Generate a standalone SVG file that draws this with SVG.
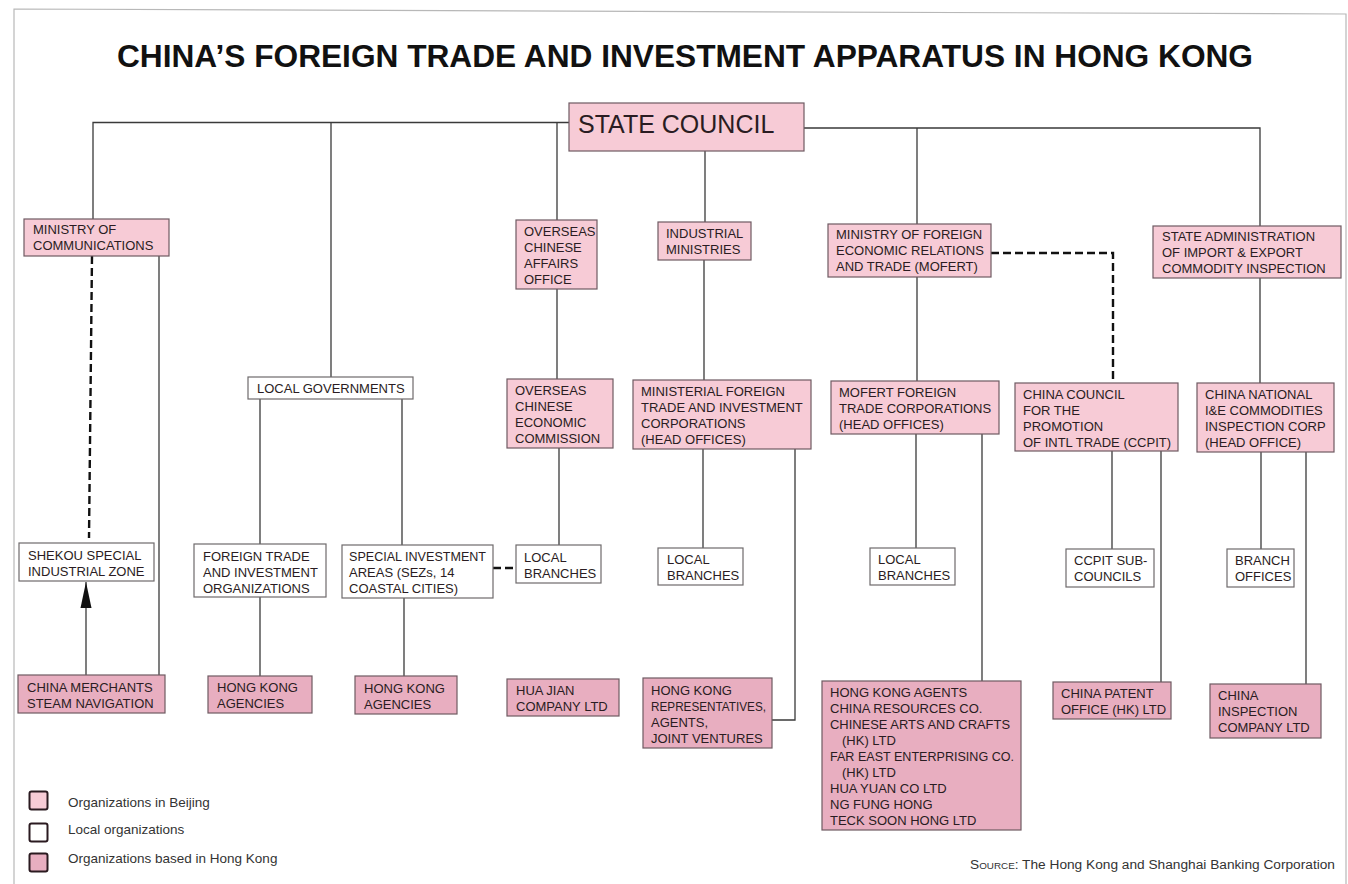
<svg xmlns="http://www.w3.org/2000/svg" width="1348" height="884" viewBox="0 0 1348 884">
<defs>
<style>
.bj{fill:#f7cbd6;stroke:#6e5a62;stroke-width:1.2}
.hk{fill:#e8aec0;stroke:#6e5a62;stroke-width:1.2}
.lo{fill:#ffffff;stroke:#6e6a6c;stroke-width:1.2}
.t{font-family:"Liberation Sans",Arial,sans-serif;font-size:13px;fill:#2a1c22}
.c{fill:none;stroke:#3a3a3a;stroke-width:1.3}
.d{fill:none;stroke:#111;stroke-width:2.4;stroke-dasharray:8 4}
.frame{fill:none;stroke:#b8b8b8;stroke-width:1.2}
.lg{font-family:"Liberation Sans",Arial,sans-serif;font-size:13.5px;fill:#333}
</style>
<marker id="arr" viewBox="0 0 26 12" refX="26" refY="6" markerWidth="26" markerHeight="12" markerUnits="userSpaceOnUse" orient="auto">
<path d="M0,0.5 L26,6 L0,11.5 Z" fill="#111"/>
</marker>
</defs>
<rect width="1348" height="884" fill="#ffffff"/>
<path class="frame" d="M14,884 V9 L1346,14 V884"/>
<text x="117" y="67" font-family="'Liberation Sans',Arial,sans-serif" font-weight="bold" font-size="31" fill="#111" textLength="1136" lengthAdjust="spacingAndGlyphs">CHINA’S FOREIGN TRADE AND INVESTMENT APPARATUS IN HONG KONG</text>

<g id="connectors">
<path class="c" d="M93,219 V122.5 H569"/>
<path class="c" d="M331,122.5 V377"/>
<path class="c" d="M557,122.5 V220"/>
<path class="c" d="M705,151 V222"/>
<path class="c" d="M804,128 H1260 V226"/>
<path class="c" d="M917,128 V224"/>
<path class="d" d="M92,256 L89,538"/>
<path class="c" d="M159,256 V675"/>
<path class="c" d="M86,675 V582" marker-end="url(#arr)"/>
<path class="c" d="M260,399 V544"/>
<path class="c" d="M260,597 V676"/>
<path class="c" d="M402,399 V545"/>
<path class="c" d="M404,598 V676"/>
<path class="d" d="M493,568 H516"/>
<path class="c" d="M557,289 V379"/>
<path class="c" d="M559,448 V545"/>
<path class="c" d="M704,260 V380"/>
<path class="c" d="M703,449 V548"/>
<path class="c" d="M795,449 V720 H772"/>
<path class="c" d="M917,277 V381"/>
<path class="d" d="M991,253 H1113 V383"/>
<path class="c" d="M916,434 V548"/>
<path class="c" d="M982,434 V681"/>
<path class="c" d="M1112,451 V549"/>
<path class="c" d="M1161,451 V682"/>
<path class="c" d="M1260,278 V383"/>
<path class="c" d="M1261,452 V549"/>
<path class="c" d="M1306,452 V684"/>
</g>

<g id="n-state"><rect class="bj" x="569" y="103" width="235" height="48"/><text class="t" x="578" y="133" font-size="25" style="font-size:25px">STATE COUNCIL</text></g>

<g id="n-mincomm"><rect class="bj" x="24" y="219" width="145" height="37"/><text class="t" x="33" y="234">MINISTRY OF</text><text class="t" x="33" y="250">COMMUNICATIONS</text></g>
<g id="n-ocao"><rect class="bj" x="516" y="220" width="81" height="69"/><text class="t" x="524" y="236">OVERSEAS</text><text class="t" x="524" y="252">CHINESE</text><text class="t" x="524" y="268">AFFAIRS</text><text class="t" x="524" y="284">OFFICE</text></g>
<g id="n-indmin"><rect class="bj" x="658" y="222" width="93" height="38"/><text class="t" x="666" y="238">INDUSTRIAL</text><text class="t" x="666" y="254">MINISTRIES</text></g>
<g id="n-mofert"><rect class="bj" x="828" y="224" width="163" height="53"/><text class="t" x="836" y="239">MINISTRY OF FOREIGN</text><text class="t" x="836" y="255">ECONOMIC RELATIONS</text><text class="t" x="836" y="271">AND TRADE (MOFERT)</text></g>
<g id="n-sa"><rect class="bj" x="1153" y="226" width="188" height="52"/><text class="t" x="1162" y="241">STATE ADMINISTRATION</text><text class="t" x="1162" y="257">OF IMPORT &amp; EXPORT</text><text class="t" x="1162" y="273">COMMODITY INSPECTION</text></g>

<g id="n-localgov"><rect class="lo" x="248" y="377" width="165" height="22"/><text class="t" x="257" y="393">LOCAL GOVERNMENTS</text></g>
<g id="n-ocec"><rect class="bj" x="507" y="379" width="106" height="69"/><text class="t" x="515" y="395">OVERSEAS</text><text class="t" x="515" y="411">CHINESE</text><text class="t" x="515" y="427">ECONOMIC</text><text class="t" x="515" y="443">COMMISSION</text></g>
<g id="n-mftic"><rect class="bj" x="633" y="380" width="178" height="69"/><text class="t" x="641" y="396">MINISTERIAL FOREIGN</text><text class="t" x="641" y="412">TRADE AND INVESTMENT</text><text class="t" x="641" y="428">CORPORATIONS</text><text class="t" x="641" y="444">(HEAD OFFICES)</text></g>
<g id="n-moftc"><rect class="bj" x="831" y="381" width="168" height="53"/><text class="t" x="839" y="397">MOFERT FOREIGN</text><text class="t" x="839" y="413">TRADE CORPORATIONS</text><text class="t" x="839" y="429">(HEAD OFFICES)</text></g>
<g id="n-ccpit"><rect class="bj" x="1015" y="383" width="163" height="68"/><text class="t" x="1023" y="399">CHINA COUNCIL</text><text class="t" x="1023" y="415">FOR THE</text><text class="t" x="1023" y="431">PROMOTION</text><text class="t" x="1023" y="447">OF INTL TRADE (CCPIT)</text></g>
<g id="n-cnie"><rect class="bj" x="1197" y="383" width="137" height="69"/><text class="t" x="1205" y="399">CHINA NATIONAL</text><text class="t" x="1205" y="415">I&amp;E COMMODITIES</text><text class="t" x="1205" y="431">INSPECTION CORP</text><text class="t" x="1205" y="447">(HEAD OFFICE)</text></g>

<g id="n-shekou"><rect class="lo" x="19" y="543" width="135" height="38"/><text class="t" x="28" y="560">SHEKOU SPECIAL</text><text class="t" x="28" y="576">INDUSTRIAL ZONE</text></g>
<g id="n-ftio"><rect class="lo" x="194" y="544" width="132" height="53"/><text class="t" x="203" y="561">FOREIGN TRADE</text><text class="t" x="203" y="577">AND INVESTMENT</text><text class="t" x="203" y="593">ORGANIZATIONS</text></g>
<g id="n-sia"><rect class="lo" x="342" y="545" width="151" height="53"/><text class="t" x="349" y="561" textLength="137" lengthAdjust="spacingAndGlyphs">SPECIAL INVESTMENT</text><text class="t" x="349" y="577">AREAS (SEZs, 14</text><text class="t" x="349" y="593">COASTAL CITIES)</text></g>
<g id="n-lb1"><rect class="lo" x="516" y="545" width="85" height="38"/><text class="t" x="524" y="562">LOCAL</text><text class="t" x="524" y="578">BRANCHES</text></g>
<g id="n-lb2"><rect class="lo" x="658" y="548" width="85" height="37"/><text class="t" x="667" y="564">LOCAL</text><text class="t" x="667" y="580">BRANCHES</text></g>
<g id="n-lb3"><rect class="lo" x="870" y="548" width="85" height="37"/><text class="t" x="878" y="564">LOCAL</text><text class="t" x="878" y="580">BRANCHES</text></g>
<g id="n-ccpitsub"><rect class="lo" x="1066" y="549" width="88" height="38"/><text class="t" x="1074" y="565">CCPIT SUB-</text><text class="t" x="1074" y="581">COUNCILS</text></g>
<g id="n-branch"><rect class="lo" x="1227" y="549" width="67" height="38"/><text class="t" x="1235" y="565">BRANCH</text><text class="t" x="1235" y="581">OFFICES</text></g>

<g id="n-cmsn"><rect class="hk" x="18" y="675" width="147" height="38"/><text class="t" x="27" y="692">CHINA MERCHANTS</text><text class="t" x="27" y="708">STEAM NAVIGATION</text></g>
<g id="n-hka1"><rect class="hk" x="208" y="676" width="104" height="37"/><text class="t" x="217" y="692">HONG KONG</text><text class="t" x="217" y="708">AGENCIES</text></g>
<g id="n-hka2"><rect class="hk" x="355" y="676" width="102" height="38"/><text class="t" x="364" y="693">HONG KONG</text><text class="t" x="364" y="709">AGENCIES</text></g>
<g id="n-huajian"><rect class="hk" x="507" y="679" width="112" height="37"/><text class="t" x="516" y="695">HUA JIAN</text><text class="t" x="516" y="711">COMPANY LTD</text></g>
<g id="n-hkreps"><rect class="hk" x="643" y="678" width="129" height="70"/><text class="t" x="651" y="695">HONG KONG</text><text class="t" x="651" y="711" textLength="115" lengthAdjust="spacingAndGlyphs">REPRESENTATIVES,</text><text class="t" x="651" y="727">AGENTS,</text><text class="t" x="651" y="743">JOINT VENTURES</text></g>
<g id="n-hkagents"><rect class="hk" x="822" y="681" width="199" height="149"/>
<text class="t" x="830" y="697">HONG KONG AGENTS</text>
<text class="t" x="830" y="713">CHINA RESOURCES CO.</text>
<text class="t" x="830" y="729" textLength="180" lengthAdjust="spacingAndGlyphs">CHINESE ARTS AND CRAFTS</text>
<text class="t" x="842" y="745">(HK) LTD</text>
<text class="t" x="830" y="761" textLength="184" lengthAdjust="spacingAndGlyphs">FAR EAST ENTERPRISING CO.</text>
<text class="t" x="842" y="777">(HK) LTD</text>
<text class="t" x="830" y="793">HUA YUAN CO LTD</text>
<text class="t" x="830" y="809">NG FUNG HONG</text>
<text class="t" x="830" y="825">TECK SOON HONG LTD</text>
</g>
<g id="n-patent"><rect class="hk" x="1053" y="682" width="118" height="37"/><text class="t" x="1061" y="698">CHINA PATENT</text><text class="t" x="1061" y="714">OFFICE (HK) LTD</text></g>
<g id="n-ci"><rect class="hk" x="1210" y="684" width="111" height="54"/><text class="t" x="1218" y="700">CHINA</text><text class="t" x="1218" y="716">INSPECTION</text><text class="t" x="1218" y="732">COMPANY LTD</text></g>

<g id="legend">
<rect x="29.5" y="791.5" width="18" height="18" rx="2" fill="#f7cbd6" stroke="#2a1a20" stroke-width="2"/>
<text class="lg" x="68" y="807">Organizations in Beijing</text>
<rect x="29.5" y="823.5" width="18" height="18" rx="2" fill="#ffffff" stroke="#2a1a20" stroke-width="2"/>
<text class="lg" x="68" y="834">Local organizations</text>
<rect x="29.5" y="853.5" width="18" height="18" rx="2" fill="#e8aec0" stroke="#2a1a20" stroke-width="2"/>
<text class="lg" x="68" y="863">Organizations based in Hong Kong</text>
</g>
<text x="970" y="869" font-family="'Liberation Sans',Arial,sans-serif" font-size="12.5" fill="#333" textLength="365" lengthAdjust="spacingAndGlyphs"><tspan style="font-variant:small-caps">Source:</tspan> The Hong Kong and Shanghai Banking Corporation</text>
</svg>
